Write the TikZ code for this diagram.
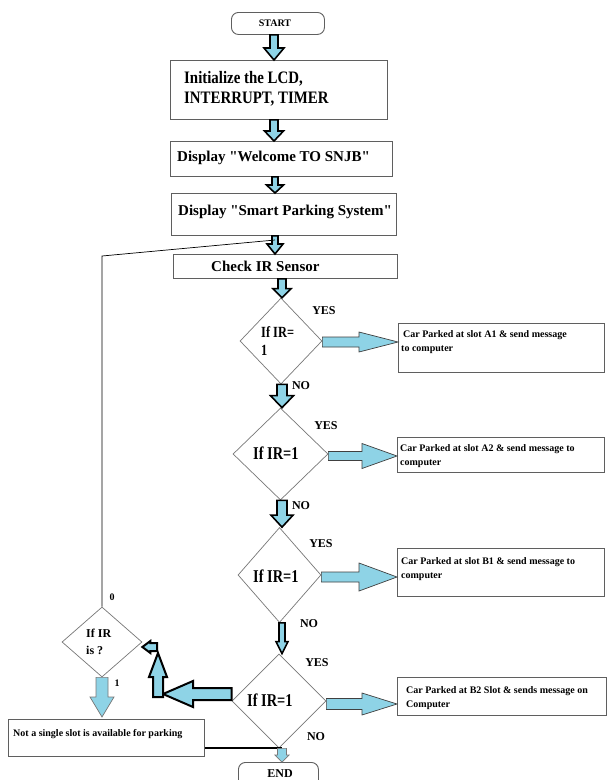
\documentclass[tikz,border=0pt]{standalone}
\usepackage{fontspec}
\setmainfont{Liberation Serif}[Ligatures=TeXOff]
\newfontfamily\condA{Liberation Serif}[FakeStretch=0.85]
\newfontfamily\condB{Liberation Serif}[FakeStretch=0.8]
\usetikzlibrary{shapes.geometric,calc}
\definecolor{ablue}{RGB}{142,211,230}
\definecolor{bline}{RGB}{95,95,95}
\definecolor{dline}{RGB}{120,120,120}

% vertical block arrow: [style]{from}{to}{shaft half width}{head half width}{signed head length}
\newcommand\varr[6][]{%
  \draw[#1] let \p1=#2, \p2=#3 in
    (\x1-#4pt,\y1) -- (\x1+#4pt,\y1) -- (\x1+#4pt,\y2+#6pt) -- (\x1+#5pt,\y2+#6pt)
    -- (\x1,\y2) -- (\x1-#5pt,\y2+#6pt) -- (\x1-#4pt,\y2+#6pt) -- cycle;}
% horizontal block arrow
\newcommand\harr[6][]{%
  \draw[#1] let \p1=#2, \p2=#3 in
    (\x1,\y1-#4pt) -- (\x1,\y1+#4pt) -- (\x2+#6pt,\y1+#4pt) -- (\x2+#6pt,\y1+#5pt)
    -- (\x2,\y1) -- (\x2+#6pt,\y1-#5pt) -- (\x2+#6pt,\y1-#4pt) -- cycle;}

\tikzset{
  box/.style={draw=bline, line width=0.9pt, inner sep=0pt, anchor=north west},
  term/.style={box, rounded corners=7pt},
  dia/.style={draw=dline, line width=0.7pt, shape=diamond, inner sep=0pt},
  txt/.style={inner sep=0pt, anchor=west, align=left},
  big/.style={txt, font=\fontsize{15}{20}\selectfont\bfseries},
  ini/.style={txt, font=\condA\fontsize{17.5}{20}\selectfont\bfseries},
  dtxt/.style={txt, font=\condB\fontsize{18}{18}\selectfont\bfseries},
  dtxtA/.style={txt, font=\condB\fontsize{15.5}{18}\selectfont\bfseries},
  small/.style={txt, font=\fontsize{10}{14}\selectfont\bfseries},
  sdtxt/.style={txt, font=\fontsize{12}{17}\selectfont\bfseries},
  lab/.style={inner sep=0pt, font=\fontsize{12}{12}\selectfont\bfseries},
  slab/.style={inner sep=0pt, font=\fontsize{10}{10}\selectfont\bfseries},
  thickarr/.style={draw=black, fill=ablue, line width=1.6pt, line join=miter},
  heavyarr/.style={draw=black, fill=ablue, line width=2pt, line join=miter},
  thinarr/.style={draw=black!75, fill=ablue, line width=0.7pt},
  greyarr/.style={draw=dline, fill=ablue, line width=0.7pt},
  loopline/.style={draw=black, line width=0.7pt},
}

\begin{document}
\begin{tikzpicture}[x=1pt,y=-1pt]
\useasboundingbox (0,0) rectangle (608,780);
\fill[white] (0,0) rectangle (608,780);
\clip (0,0) rectangle (608,780);

% spine coordinates
\coordinate (xa) at (274,0);
\coordinate (xc) at (275,0);
\coordinate (xd) at (282,0);

% boxes
\node[term, minimum width=93pt, minimum height=22pt] (start) at (231,12) {};
\node[slab] (tstart) at (275,23) {START};
\node[box, minimum width=217pt, minimum height=59pt] (init) at (170,60) {};
\node[ini] (tinit) at (184,88.5) {Initialize the LCD,\\INTERRUPT, TIMER};
\node[box, minimum width=222pt, minimum height=35pt] (welcome) at (170,141) {};
\node[big] (twel) at (177,157.5) {Display "Welcome TO SNJB"};
\node[box, minimum width=225pt, minimum height=42pt] (smart) at (171,193) {};
\node[big] (tsmart) at (178,211.5) {Display "Smart Parking System"};
\node[box, minimum width=224pt, minimum height=24pt] (check) at (173,254) {};
\node[big] (tcheck) at (211,266.5) {Check IR Sensor};

% diamonds
\node[dia, minimum width=82pt, minimum height=86pt] (d1) at (281,341) {};
\node[dtxtA] (td1) at (261,341) {If IR=\\1};
\node[dia, minimum width=95pt, minimum height=92pt] (d2) at (280.5,454) {};
\node[dtxt] (td2) at (253,453) {If IR=1};
\node[dia, minimum width=83pt, minimum height=95pt] (d3) at (279.5,575) {};
\node[dtxt] (td3) at (253,576) {If IR=1};
\node[dia, minimum width=94pt, minimum height=94pt] (d4) at (279,701) {};
\node[dtxt] (td4) at (247,700) {If IR=1};
\node[dia, minimum width=80pt, minimum height=70pt] (sd) at (102,642) {};
\node[sdtxt] (tsd) at (86,641.5) {If IR\\is ?};

% result boxes
\node[box, minimum width=206pt, minimum height=49pt] (a1) at (398,323) {};
\node[small] (ta1) at (401,342) {\hspace{2pt}Car Parked at slot A1 \& send message\\to computer};
\node[box, minimum width=207pt, minimum height=35pt] (a2) at (397,437) {};
\node[small] (ta2) at (400,456) {Car Parked at slot A2 \& send message to\\computer};
\node[box, minimum width=207pt, minimum height=48pt] (b1) at (397,548) {};
\node[small] (tb1) at (401,569) {Car Parked at slot B1 \& send message to\\computer};
\node[box, minimum width=209pt, minimum height=38pt] (b2) at (397,677) {};
\node[small] (tb2) at (406,698.5) {Car Parked at B2 Slot \& sends message on\\Computer};
\node[box, minimum width=196pt, minimum height=37pt] (nos) at (8,719) {};
\node[small] (tnos) at (13,734) {Not a single slot is available for parking};
\node[term, minimum width=80pt, minimum height=32pt] (end) at (238,762) {};
\node[lab] (tend) at (280,774) {END};

% labels
\node[lab] (y1) at (324,311) {YES};
\node[lab] (y2) at (326,426) {YES};
\node[lab] (y3) at (321,544) {YES};
\node[lab] (y4) at (317,663) {YES};
\node[lab] (n1) at (301,386) {NO};
\node[lab] (n2) at (301,506) {NO};
\node[lab] (n3) at (309,624) {NO};
\node[lab] (n4) at (316,737) {NO};
\node[slab] (l0) at (112,597) {0};
\node[slab] (l1) at (117,683) {1};

% main down arrows
\varr[thickarr]{(start.south -| xa)}{(init.north -| xa)}{4}{10}{12}
\varr[thickarr]{(init.south -| xa)}{(welcome.north -| xa)}{4}{9.5}{10}
\varr[thickarr]{(welcome.south -| xc)}{(smart.north -| xc)}{3}{8.5}{8}
\varr[thickarr]{(smart.south -| xc)}{(check.north -| xc)}{3}{8}{10}
\varr[thickarr]{(check.south -| xd)}{(d1.north -| xd)}{4}{9}{9}
\varr[thickarr]{(d1.south -| xd)}{(d2.north -| xd)}{5}{11.5}{12}
\varr[thickarr]{(d2.south -| xd)}{(d3.north -| xd)}{5}{11}{12}
\varr[thickarr]{(d3.south -| xd)}{(d4.north -| xd)}{3}{6}{12}

% right arrows to result boxes
\harr[thinarr]{($(d1.east)+(0,1)$)}{(a1.west |- d1.east)}{5}{10}{-39}
\harr[thinarr]{($(d2.east)+(0,2)$)}{(a2.west |- d2.east)}{4.5}{12.5}{-35}
\harr[thinarr]{($(d3.east)+(0,2)$)}{(b1.west |- d3.east)}{5}{14}{-38}
\harr[thinarr]{($(d4.east)+(0,3)$)}{(b2.west |- d4.east)}{5.5}{11}{-35}

% left branch
\coordinate (tipL) at (163,0);
\coordinate (lstart) at ($(d4.west)+(0,-7)$);
\harr[heavyarr]{(lstart)}{(lstart -| tipL)}{6}{13}{30}
\coordinate (ua) at (158,697);
\coordinate (ub) at (158,653);
\varr[heavyarr]{(ua)}{(ub)}{5}{9}{-24}
\coordinate (sa) at (157,647);
\harr[heavyarr]{(sa)}{(sa -| sd.east)}{4}{6}{8}
\coordinate (ndtip) at ($(nos.north -| sd.south)+(0,-2)$);
\varr[greyarr]{(sd.south)}{(ndtip)}{6}{12}{20}

% loop back line
\coordinate (lp) at (102,256);
\coordinate (lpend) at (275,240);
\draw[loopline] (sd.north) -- (lp) -- (lpend);

% join line and arrow to END
\coordinate (jn) at (282,748);
\draw[line width=2pt] (jn -| nos.east) -- (jn);
\varr[greyarr]{(d4.south -| xd)}{(end.north -| xd)}{4.5}{7}{7}
\end{tikzpicture}
\end{document}
